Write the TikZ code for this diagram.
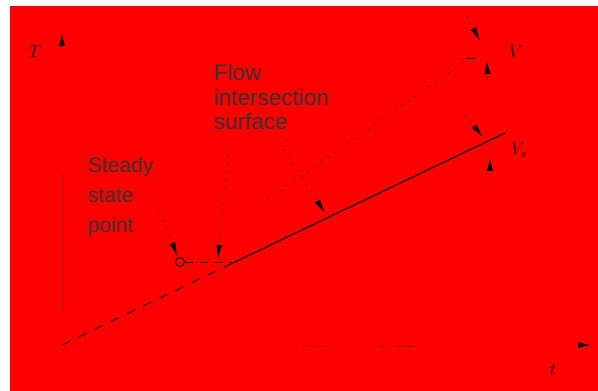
\documentclass[tikz,border=0pt]{standalone}
\usepackage{fontspec}
\setmainfont{Liberation Sans}
\usetikzlibrary{arrows.meta}
\begin{document}
\begin{tikzpicture}[
        x=1pt, y=-1pt,
        axisline/.style={draw=red, line width=0.8pt, -{Latex[length=13pt,width=6pt,black]}},
        axismark/.style={draw=red!65!black, line width=1pt},
        mainline/.style={line width=1.1pt},
        dashline/.style={line width=0.9pt, dash pattern=on 9pt off 9pt},
        dotline/.style={line width=0.9pt, dash pattern=on 1.2pt off 7pt},
        ptr/.style={dotline, -{Latex[length=14pt,width=6pt]}},
        txt/.style={align=left, inner sep=0pt, anchor=north west, text=black!80},
        sym/.style={inner sep=0pt, font=\fontsize{16}{16}\selectfont}
    ]
    \useasboundingbox (0,0) rectangle (598,391);
    \fill[white] (0,0) rectangle (598,391);
    \fill[red] (10,6) rectangle (598,391);

    % axes
    \coordinate (O) at (62,345);
    \draw[axisline] (O) -- (62,33);
    \draw[axisline] (O) -- (591,345);
    \draw[axismark] (62,313) -- (62,175);
    \draw[axismark, dash pattern=on 10pt off 5pt] (303,346) -- (330,346);
    \draw[axismark, dash pattern=on 9pt off 6pt on 30pt] (378,346) -- (415,346);
    \node[sym] (tlab) at (35,52) {$T$};
    \node[sym] (xlab) at (553,370) {$t$};

    % lines
    \coordinate (P) at (235,262);
    \coordinate (E) at (505,133);
    \coordinate (Ua) at (267,200);
    \coordinate (Ub) at (471,57);
    \draw[dashline] (O) -- (P);
    \draw[mainline] (P) -- (E);
    \draw[dotline] (Ua) -- (Ub);
    \draw[line width=0.9pt] (466,58) -- (475,58);

    % steady state point
    \node[circle, draw, line width=0.9pt, inner sep=0pt, minimum size=9pt] (ssp) at (180,262) {};
    \draw[dashline, dash pattern=on 8pt off 7pt] (ssp.east) -- (P);

    % labels
    \node[txt, font=\fontsize{21}{30}\selectfont] (steady) at (88,157) {Steady\\state\\point};
    \node[txt, font=\fontsize{22.5}{24.5}\selectfont] (flow) at (214,64) {Flow\\intersection\\surface};
    \coordinate (fa) at (229,147);
    \coordinate (fb) at (280,143);
    \coordinate (ha) at (218,259);
    \coordinate (hb) at (325,213);
    \draw[ptr, shorten >=1pt] (steady.east) -- (ssp);
    \draw[ptr] (fa) -- (ha);
    \draw[ptr] (fb) -- (hb);

    % markers on the right
    \coordinate (ra) at (467,16);
    \coordinate (rb) at (480,41);
    \coordinate (rc) at (488,86);
    \coordinate (rd) at (487,60);
    \coordinate (re) at (465,115);
    \coordinate (rf) at (483,137);
    \coordinate (rg) at (490,183);
    \coordinate (rh) at (490,157);
    \draw[ptr] (ra) -- (rb);
    \draw[ptr] (rc) -- (rd);
    \draw[ptr] (re) -- (rf);
    \draw[ptr] (rg) -- (rh);
    \node[sym] (vlab) at (516,52) {$V$};
    \node[sym] (vslab) at (519,150) {$V_s$};
\end{tikzpicture}
\end{document}
